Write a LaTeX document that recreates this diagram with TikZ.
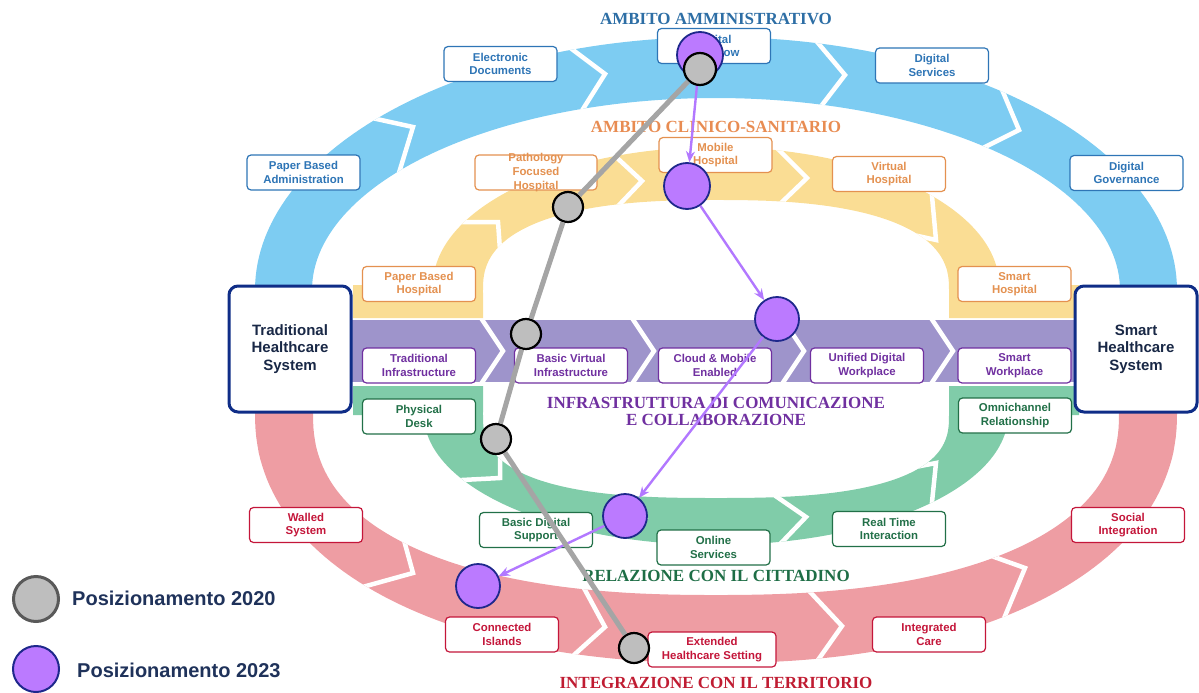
\documentclass[tikz,border=0pt]{standalone}
\usepackage{fontspec}
\setmainfont{Liberation Sans}
\newfontfamily\serifttl{Liberation Serif}
\usetikzlibrary{arrows.meta,calc}

% band fills
\definecolor{bandB}{RGB}{125,204,242}
\definecolor{bandY}{RGB}{250,221,148}
\definecolor{bandP}{RGB}{158,148,203}
\definecolor{bandG}{RGB}{128,204,169}
\definecolor{bandR}{RGB}{238,157,163}
% label colours
\definecolor{txtB}{RGB}{46,117,182}
\definecolor{txtY}{RGB}{228,145,80}
\definecolor{txtP}{RGB}{112,48,160}
\definecolor{txtG}{RGB}{34,112,72}
\definecolor{txtR}{RGB}{196,22,58}
\definecolor{ttlB}{RGB}{45,110,165}
\definecolor{ttlY}{RGB}{232,140,82}
\definecolor{ttlG}{RGB}{30,110,70}
\definecolor{ttlR}{RGB}{192,28,50}
\definecolor{navy}{RGB}{15,45,135}
\definecolor{ink}{RGB}{25,40,70}
\definecolor{legendtxt}{RGB}{31,50,90}
% markers
\definecolor{markG}{RGB}{190,190,190}
\definecolor{markP}{RGB}{187,122,255}
\definecolor{markPedge}{RGB}{30,40,140}
\definecolor{plinec}{RGB}{178,120,255}
\definecolor{glinec}{RGB}{165,165,165}

% outlines of the five bands (pixel-like units, y downwards)
\newcommand\pathBlue{(255,300) -- plot[domain=0:180,samples=120] ({716-461*cos(\x)},{290-253*sin(\x)}) -- (1177,300) -- (1120,300) -- plot[domain=180:0,samples=120] ({716-404*cos(\x)},{290-192*sin(\x)}) -- (312,300) -- cycle}
\newcommand\pathYellow{(353,318) -- (353,285) -- plot[domain=0:180,samples=120] ({716-283*cos(\x)},{285-138*sin(\x)}) -- (1079,285) -- (1079,318) -- (949,318) -- plot[domain=180:0,samples=120] ({716-233*spc(\x,0.8)},{290-90*sps(\x,0.8)}) -- (483,318) -- cycle}
\newcommand\pathPurple{(352,320) rectangle (1076,382)}
\newcommand\pathGreen{(353,386) -- (353,415) -- plot[domain=0:180,samples=120] ({716-292*cos(\x)},{415+130*sin(\x)}) -- (1079,415) -- (1079,386) -- (949,386) -- plot[domain=180:0,samples=120] ({716-233*spc(\x,0.75)},{415+83*sps(\x,0.75)}) -- (483,386) -- cycle}
\newcommand\pathRed{(255,400) -- plot[domain=0:180,samples=120] ({716-461*spc(\x,0.92)},{413+250*sps(\x,0.92)}) -- (1177,400) -- (1119,400) -- plot[domain=180:0,samples=120] ({716-403*spc(\x,0.85)},{413+182*sps(\x,0.85)}) -- (313,400) -- cycle}

% white chevron gap: outer point, tip, inner point
\newcommand\chev[3]{\draw[sepline] ($#2!1.6!#1$) -- #2 -- ($#2!1.6!#3$);}

\tikzset{
  lbl/.style={draw=#1, text=#1, fill=white, rounded corners=4pt, line width=1.2pt,
    minimum width=113pt, minimum height=35pt, inner sep=0pt, align=center,
    font=\bfseries\fontsize{11.4}{13.6}\selectfont},
  bigbox/.style={draw=navy, text=ink, fill=white, rounded corners=9pt, line width=3pt,
    minimum width=122pt, minimum height=126pt, align=center,
    font=\bfseries\fontsize{15}{17.5}\selectfont},
  ttl/.style={text=#1, font=\serifttl\bfseries\fontsize{17}{17}\selectfont, align=center, inner sep=0pt},
  sepline/.style={white, line width=4.5pt, line join=miter},
  pcirc/.style={circle, fill=markP, draw=markPedge, line width=1.8pt, minimum size=44pt, inner sep=0pt},
  gcirc/.style={circle, fill=markG, draw=black, line width=2.2pt, minimum size=30pt, inner sep=0pt},
  parrow/.style={draw=plinec, line width=2.4pt, -{Stealth[length=11pt,width=9pt]}},
  gpath/.style={draw=glinec, line width=5pt},
  legend/.style={anchor=west, text=legendtxt, inner sep=0pt, font=\bfseries\fontsize{20}{22}\selectfont},
}

\begin{document}
\begin{tikzpicture}[x=1pt,y=-1pt,
  declare function={spc(\t,\p)=(cos(\t)<0 ? -1 : 1)*pow(abs(cos(\t))+0.000001,\p);
                    sps(\t,\p)=pow(abs(sin(\t))+0.000001,\p);}]
\useasboundingbox (0,0) rectangle (1199,693);

% ---- bands with their chevron gaps ----
\fill[bandB] \pathBlue;
\begin{scope}
  \clip \pathBlue;
  \chev{(372,118)}{(413,127)}{(402,163)}
  \chev{(573,50)}{(605,74)}{(583,109)}
  \chev{(818,43)}{(845,75)}{(822,105)}
  \chev{(1003,92)}{(1019,130)}{(985,147)}
\end{scope}

\fill[bandY] \pathYellow;
\begin{scope}
  \clip \pathYellow;
  \chev{(460,222)}{(498,222)}{(500,250)}
  \chev{(615,156)}{(642,181)}{(620,204)}
  \chev{(780,151)}{(807,178)}{(782,202)}
  \chev{(932,196)}{(936,240)}{(900,232)}
\end{scope}

\fill[bandP] \pathPurple;
\begin{scope}
  \clip \pathPurple;
  \chev{(481,318)}{(503,351)}{(481,384)}
  \chev{(632,318)}{(654,351)}{(632,384)}
  \chev{(782,318)}{(804,351)}{(782,384)}
  \chev{(931,318)}{(953,351)}{(931,384)}
\end{scope}

\fill[bandG] \pathGreen;
\begin{scope}
  \clip \pathGreen;
  \chev{(462,480)}{(500,478)}{(500,455)}
  \chev{(618,537)}{(645,518)}{(622,495)}
  \chev{(783,541)}{(806,517)}{(777,497)}
  \chev{(932,502)}{(936,463)}{(900,470)}
\end{scope}

\fill[bandR] \pathRed;
\begin{scope}
  \clip \pathRed;
  \chev{(377,583)}{(413,573)}{(402,533)}
  \chev{(575,654)}{(605,627)}{(585,590)}
  \chev{(818,660)}{(842,626)}{(812,594)}
  \chev{(1010,604)}{(1025,568)}{(983,553)}
\end{scope}

% ---- band titles ----
\node[ttl=ttlB] (tamm) at (716,19) {AMBITO AMMINISTRATIVO};
\node[ttl=ttlY] (tcli) at (716,127) {AMBITO CLINICO-SANITARIO};
\node[ttl=txtP] (tinf) at (716,411.5) {INFRASTRUTTURA DI COMUNICAZIONE\\E COLLABORAZIONE};
\node[ttl=ttlG] (trel) at (716,576) {RELAZIONE CON IL CITTADINO};
\node[ttl=ttlR] (tint) at (716,683) {INTEGRAZIONE CON IL TERRITORIO};

% ---- stage labels ----
\node[lbl=txtB] (pba) at (303.5,172.5) {Paper Based\\Administration};
\node[lbl=txtB] (ed)  at (500.5,64)    {Electronic\\Documents};
\node[lbl=txtB] (dw)  at (714,46)      {Digital\\Workflow};
\node[lbl=txtB] (ds)  at (932,65.5)    {Digital\\Services};
\node[lbl=txtB] (dg)  at (1126.5,173)  {Digital\\Governance};

\node[lbl=txtY] (pbh) at (419,284)     {Paper Based\\Hospital};
\node[lbl=txtY, minimum width=122pt] (pfh) at (536,172.5) {};
\node[text=txtY, align=center, inner sep=0pt, font=\bfseries\fontsize{11.4}{13.8}\selectfont] (pfht) at (pfh) {Pathology\\Focused\\Hospital};
\node[lbl=txtY] (mh)  at (715.5,155)   {Mobile\\Hospital};
\node[lbl=txtY] (vh)  at (889,174)     {Virtual\\Hospital};
\node[lbl=txtY] (sh)  at (1014.5,284)  {Smart\\Hospital};

\node[lbl=txtP] (ti)  at (419,365.5)   {Traditional\\Infrastructure};
\node[lbl=txtP] (bvi) at (571,365.5)   {Basic Virtual\\Infrastructure};
\node[lbl=txtP] (cme) at (715,365.5)   {Cloud \& Mobile\\Enabled};
\node[lbl=txtP] (udw) at (867,365.5)   {Unified Digital\\Workplace};
\node[lbl=txtP] (sw)  at (1014.5,365.5){Smart\\Workplace};

\node[lbl=txtG] (pd)  at (419,416.5)   {Physical\\Desk};
\node[lbl=txtG] (bds) at (536,530)     {Basic Digital\\Support};
\node[lbl=txtG] (os)  at (713.5,547.5) {Online\\Services};
\node[lbl=txtG] (rti) at (889,529)     {Real Time\\Interaction};
\node[lbl=txtG] (orl) at (1015,415.5)  {Omnichannel\\Relationship};

\node[lbl=txtR] (ws)  at (306,525)     {Walled\\System};
\node[lbl=txtR] (ci)  at (502,634.5)   {Connected\\Islands};
\node[lbl=txtR, minimum width=128pt] (ehs) at (712,649.5) {Extended\\Healthcare Setting};
\node[lbl=txtR] (ic)  at (929,634.5)   {Integrated\\Care};
\node[lbl=txtR] (si)  at (1128,525)    {Social\\Integration};

\node[bigbox] (ths) at (290,349)  {Traditional\\Healthcare\\System};
\node[bigbox] (shs) at (1136,349) {Smart\\Healthcare\\System};

% ---- 2023 positions ----
\node[pcirc, minimum size=46pt] (p1) at (700,55)  {};
\node[pcirc, minimum size=46pt] (p2) at (687,186) {};
\node[pcirc] (p3) at (777,319) {};
\node[pcirc] (p4) at (625,516) {};
\node[pcirc] (p5) at (478,586) {};
\draw[parrow] (p1) -- (p2);
\draw[parrow] (p2) -- (p3);
\draw[parrow] (p3) -- (p4);
\draw[parrow] (p4) -- (p5);

% ---- 2020 positions ----
\node[gcirc, minimum size=32pt] (g1) at (700,69)  {};
\node[gcirc] (g2) at (568,207) {};
\node[gcirc] (g3) at (526,334) {};
\node[gcirc] (g4) at (496,439) {};
\node[gcirc] (g5) at (634,648) {};
\draw[gpath] (g1) -- (g2);
\draw[gpath] (g2) -- (g3);
\draw[gpath] (g3) -- (g4);
\draw[gpath] (g4) -- (g5);

% ---- legend ----
\node[circle, fill=markG, draw={rgb,255:red,89;green,89;blue,89}, line width=3pt, minimum size=45pt, inner sep=0pt] (lg20) at (36,599) {};
\node[legend] (lt20) at (72,598) {Posizionamento 2020};
\node[circle, fill=markP, draw=markPedge, line width=2pt, minimum size=46pt, inner sep=0pt] (lg23) at (36,669) {};
\node[legend] (lt23) at (77,670) {Posizionamento 2023};
\end{tikzpicture}
\end{document}
